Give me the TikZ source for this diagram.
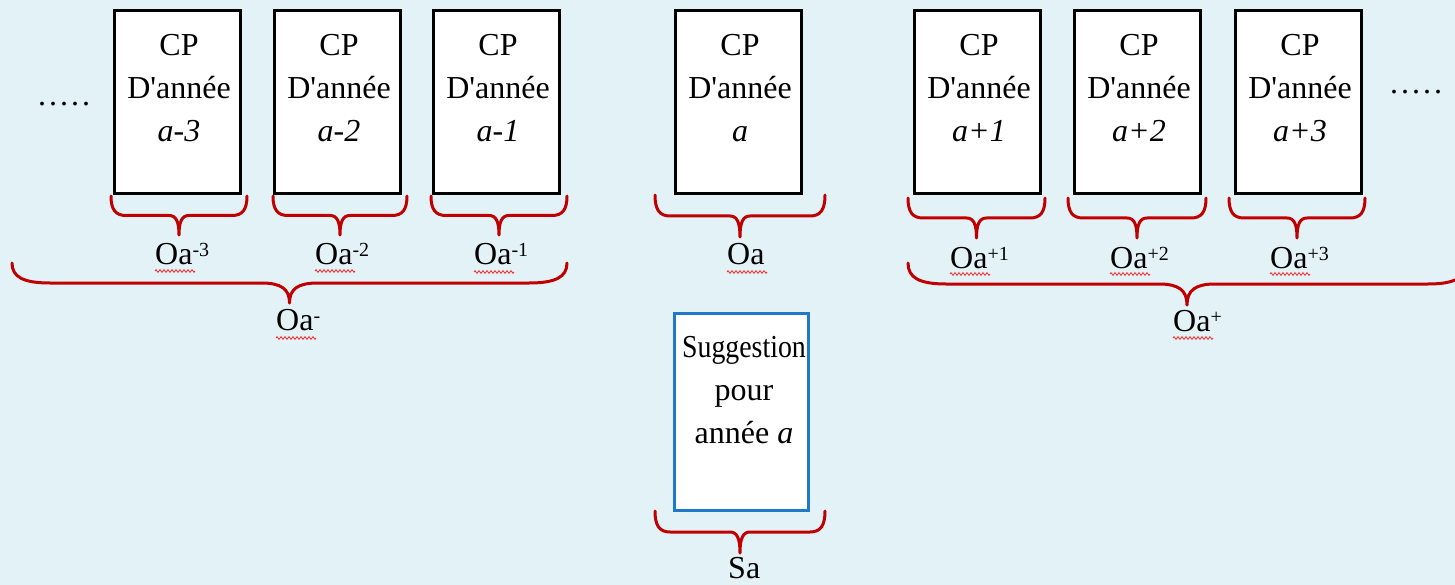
\documentclass[tikz,border=0pt]{standalone}
\usepackage{fontspec}
\usepackage{graphicx}
\setmainfont{Liberation Serif}
\usetikzlibrary{decorations.pathmorphing}
\definecolor{bg}{HTML}{E3F2F6}
\definecolor{bred}{HTML}{C00000}
\definecolor{sqred}{HTML}{F03838}
\definecolor{sbblue}{HTML}{1F78C8}
\newcommand{\upidx}[1]{\raisebox{8pt}{\fontsize{20}{20}\selectfont #1}}
\newcommand{\dannee}{D\textquotesingle année}
% curly brace: x1, x2, y0, half depth, end radius, tip radius
\newcommand{\curly}[6]{%
  \draw[curlystyle] (#1,#3) .. controls (#1,{#3+0.7*#4}) and ({#1+0.3*#5},{#3+#4}) .. ({#1+#5},{#3+#4})
   -- ({(#1+#2)/2-#6},{#3+#4}) .. controls ({(#1+#2)/2-0.3*#6},{#3+#4}) and ({(#1+#2)/2},{#3+1.3*#4}) .. ({(#1+#2)/2},{#3+2*#4})
   .. controls ({(#1+#2)/2},{#3+1.3*#4}) and ({(#1+#2)/2+0.3*#6},{#3+#4}) .. ({(#1+#2)/2+#6},{#3+#4})
   -- ({#2-#5},{#3+#4}) .. controls ({#2-0.3*#5},{#3+#4}) and (#2,{#3+0.7*#4}) .. (#2,#3);}
\tikzset{
  cpbox/.style={draw=black, line width=3pt, fill=white, minimum width=126pt, minimum height=183pt, inner sep=0pt},
  sgbox/.style={draw=sbblue, line width=3pt, fill=white, minimum width=134pt, minimum height=197pt, inner sep=0pt},
  cptext/.style={font=\fontsize{32}{43}\selectfont, align=center, inner sep=0pt, anchor=north},
  lbl/.style={font=\fontsize{32}{38}\selectfont, inner sep=0pt, anchor=base west},
  dots/.style={font=\fontsize{32}{38}\selectfont, inner sep=0pt, anchor=base west},
  curlystyle/.style={draw=bred, line width=3pt, line join=round, line cap=round},
  squig/.style={draw=sqred, line width=0.9pt, decorate, decoration={zigzag, segment length=4pt, amplitude=1.3pt}},
}
\begin{document}
\begin{tikzpicture}[x=1pt, y=-1pt]
\fill[bg] (0,0) rectangle (1455,585);
\useasboundingbox (0,0) rectangle (1455,585);
\clip (0,0) rectangle (1455,585);

% braces
\curly{111}{247}{196}{19.5}{15}{10}
\curly{273}{407}{196}{19.5}{15}{10}
\curly{431}{567}{196}{19.5}{15}{10}
\curly{655}{825}{195}{21}{15}{10}
\curly{908}{1045}{198}{20}{15}{10}
\curly{1068}{1206}{198}{20}{15}{10}
\curly{1229}{1365}{198}{20}{15}{10}
\curly{655}{825}{511}{21}{15}{10}
\curly{12}{567}{263}{20}{38}{28}
\curly{908}{1466}{263}{21}{38}{28}

% boxes
\node[cpbox] (bm3) at (177,102) {};
\node[cpbox] (bm2) at (337,102) {};
\node[cpbox] (bm1) at (496,102) {};
\node[cpbox] (b0) at (738.5,102) {};
\node[cpbox] (bp1) at (977,102) {};
\node[cpbox] (bp2) at (1137,102) {};
\node[cpbox] (bp3) at (1298,102) {};
\node[sgbox] (sg) at (741.5,412) {};

% box texts
\node[cptext] (tm3) at (179,30) {\rule{0pt}{25pt}CP\\\dannee\\\textit{a-3}};
\node[cptext] (tm2) at (339,30) {\rule{0pt}{25pt}CP\\\dannee\\\textit{a-2}};
\node[cptext] (tm1) at (498,30) {\rule{0pt}{25pt}CP\\\dannee\\\textit{a-1}};
\node[cptext] (t0) at (740,30) {\rule{0pt}{25pt}CP\\\dannee\\\textit{a}};
\node[cptext] (tp1) at (979,30) {\rule{0pt}{25pt}CP\\\dannee\\\textit{a+1}};
\node[cptext] (tp2) at (1139,30) {\rule{0pt}{25pt}CP\\\dannee\\\textit{a+2}};
\node[cptext] (tp3) at (1300,30) {\rule{0pt}{25pt}CP\\\dannee\\\textit{a+3}};
\node[cptext] (tsg) at (744,332) {\rule{0pt}{25pt}\scalebox{0.87}[1]{Suggestion}\\pour\\année \textit{a}};

% dots
\node[dots] (dl) at (38,106) {.\kern3pt.\kern3pt.\kern3pt.\kern3pt.};
\node[dots] (dr) at (1390,94) {.\kern3pt.\kern3pt.\kern3pt.\kern3pt.};

% labels
\node[lbl] (lm3) at (155,264) {Oa\upidx{-3}};
\node[lbl] (lm2) at (315,264) {Oa\upidx{-2}};
\node[lbl] (lm1) at (474,265) {Oa\upidx{-1}};
\node[lbl] (l0) at (727,265) {Oa};
\node[lbl] (lp1) at (950,268) {Oa\upidx{+1}};
\node[lbl] (lp2) at (1110,268) {Oa\upidx{+2}};
\node[lbl] (lp3) at (1270,268) {Oa\upidx{+3}};
\node[lbl] (lm) at (276,330) {Oa\upidx{-}};
\node[lbl] (lp) at (1173,331) {Oa\upidx{+}};
\node[lbl] (ls) at (728,578) {Sa};

% spell-check squiggles
\draw[squig] (155,271) -- (195,271);
\draw[squig] (315,271) -- (355,271);
\draw[squig] (474,272) -- (514,272);
\draw[squig] (727,272) -- (767,272);
\draw[squig] (950,274) -- (990,274);
\draw[squig] (1110,274) -- (1150,274);
\draw[squig] (1270,274) -- (1310,274);
\draw[squig] (276,338) -- (316,338);
\draw[squig] (1173,338) -- (1213,338);
\end{tikzpicture}
\end{document}
